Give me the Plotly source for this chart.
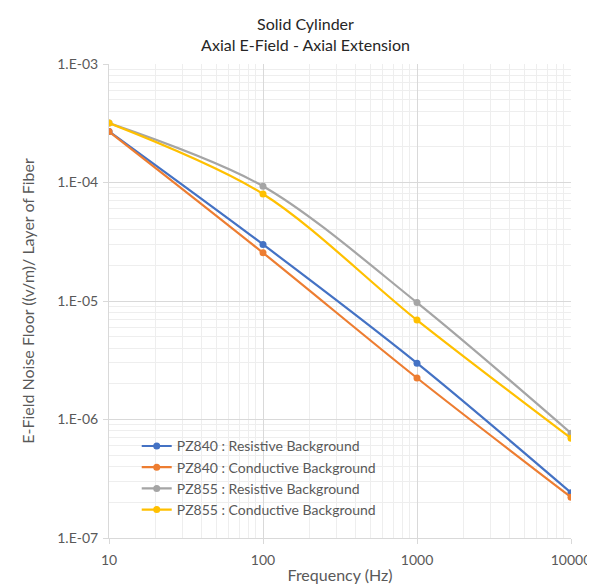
import plotly.graph_objects as go

freq = [10, 100, 1000, 10000]
pz840_res = [2.70e-4, 3.0e-5, 2.99e-6, 2.41e-7]
pz840_cond = [2.69e-4, 2.55e-5, 2.24e-6, 2.21e-7]
pz855_res = [3.17e-4, 9.3e-5, 9.7e-6, 7.66e-7]
pz855_cond = [3.17e-4, 8.0e-5, 6.9e-6, 6.95e-7]

series_names = ["PZ840 : Resistive Background", "PZ840 : Conductive Background",
                "PZ855 : Resistive Background", "PZ855 : Conductive Background"]
series_colors = ["#4472C4", "#ED7D31", "#A5A5A5", "#FFC000"]

x_tickvals = [10, 100, 1000, 10000]
x_ticktext = ["10", "100", "1000", "10000"]
y_tickvals = [1e-7, 1e-6, 1e-5, 1e-4, 1e-3]
y_ticktext = ["1.E-07", "1.E-06", "1.E-05", "1.E-04", "1.E-03"]

x_minor = [m * d for d in [10, 100, 1000] for m in range(2, 10)]
y_minor = [m * d for d in [1e-7, 1e-6, 1e-5, 1e-4] for m in range(2, 10)]

FONT = "Lato, Carlito, Calibri, 'Open Sans', sans-serif"
TXT = "#595959"

fig = go.Figure()
for name, ys, col in zip(series_names, [pz840_res, pz840_cond, pz855_res, pz855_cond], series_colors):
    fig.add_trace(go.Scatter(
        x=freq, y=ys, name=name, mode="lines+markers",
        line=dict(color=col, width=2.2, shape="spline", smoothing=0.9),
        marker=dict(color=col, size=7),
    ))

axis_common = dict(
    type="log",
    showline=True, linecolor="#d9d9d9", linewidth=1,
    gridcolor="#d9d9d9", gridwidth=1,
    ticks="outside", ticklen=5, tickcolor="#d9d9d9",
    tickfont=dict(family=FONT, size=14, color=TXT),
    zeroline=False,
)

fig.update_layout(
    width=595, height=586,
    paper_bgcolor="white", plot_bgcolor="white",
    margin=dict(l=101, r=28, t=56, b=55),
    title=dict(
        text="Solid Cylinder<br>Axial E-Field - Axial Extension",
        x=0.5, xanchor="center", y=0.962, yanchor="top",
        font=dict(family=FONT, size=16, color="#262626"),
    ),
    xaxis=dict(axis_common,
               range=[1, 4], tickvals=x_tickvals, ticktext=x_ticktext,
               ticklabelstandoff=4,
               minor=dict(tickmode="array", tickvals=x_minor, showgrid=True, gridcolor="#eeeeee", gridwidth=1, ticks=""),
               title=dict(text="Frequency (Hz)", font=dict(family=FONT, size=16, color=TXT), standoff=3)),
    yaxis=dict(axis_common,
               range=[-7, -3], tickvals=y_tickvals, ticktext=y_ticktext,
               ticklabelstandoff=2,
               minor=dict(tickmode="array", tickvals=y_minor, showgrid=True, gridcolor="#eeeeee", gridwidth=1, ticks=""),
               title=dict(text="E-Field Noise Floor ((v/m)/ Layer of Fiber", font=dict(family=FONT, size=16, color=TXT), standoff=18)),
    legend=dict(
        x=0.06, y=0.227, xanchor="left", yanchor="top",
        bgcolor="rgba(255,255,255,0)",
        font=dict(family=FONT, size=14, color=TXT),
        itemwidth=30, tracegroupgap=1,
    ),
    showlegend=True,
)

fig.write_html("out.html")
